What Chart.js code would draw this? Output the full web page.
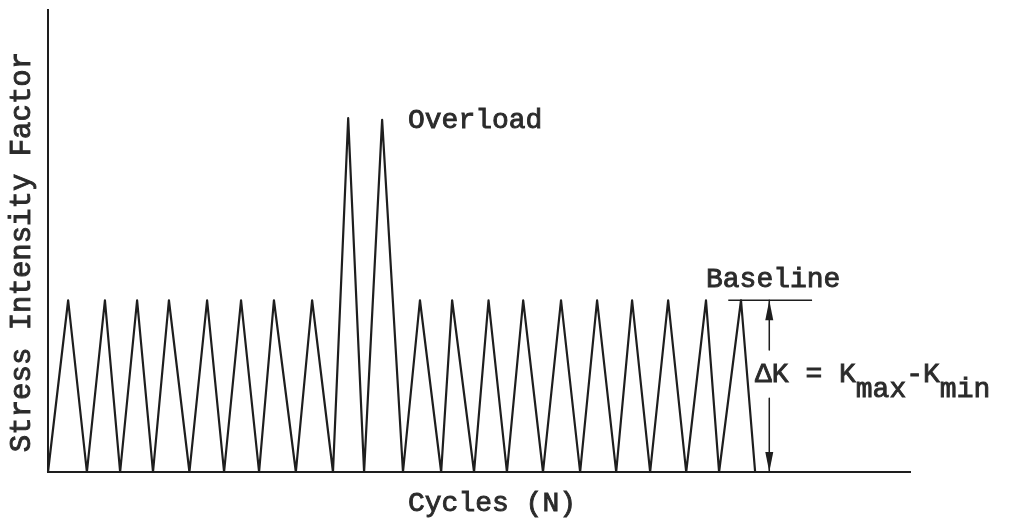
<!DOCTYPE html>
<html lang="en">
<head>
    <meta charset="UTF-8">
    <title>Stress Intensity Factor vs Cycles</title>
    <script src="https://cdn.jsdelivr.net/npm/chart.js"></script>
    <style>
        body {
            margin: 0;
            padding: 0;
            background: #ffffff;
        }
        #wrap {
            width: 1012px;
            height: 521px;
        }
    </style>
</head>
<body>
    <div id="wrap">
        <canvas id="kChart" width="1012" height="521"></canvas>
    </div>

    <script>
        // cycle positions (N) of each turning point, valley / peak alternating
        const cycles = [
            0, 0.57, 1.10, 1.61, 2.04, 2.52, 2.97, 3.42, 4.00, 4.50,
            4.98, 5.46, 5.97, 6.39, 7.01, 7.47, 8.06, 8.49, 8.94, 9.45,
            10.04, 10.52, 11.12, 11.43, 12.05, 12.46, 12.98, 13.44, 14.00, 14.51,
            15.05, 15.53, 16.07, 16.52, 17.03, 17.54, 18.05, 18.61, 18.98, 19.60,
            20.00
        ];
        // stress intensity (K / Kmax baseline)
        const kValues = [
            0, 1, 0, 1, 0, 1, 0, 1, 0, 1,
            0, 1, 0, 1, 0, 1, 0, 2.06, 0, 2.05,
            0, 1, 0, 1, 0, 1, 0, 1, 0, 1,
            0, 1, 0, 1, 0, 1, 0, 1, 0, 1,
            0
        ];
        const baselineX = [19.24, 21.61];
        const baselineK = 1;
        const deltaX = 20.40;
        const upperStem = [1, 0.71];
        const lowerStem = [0.43, 0];

        const xTitle = 'Cycles (N)';
        const yTitle = 'Stress Intensity Factor';
        const overloadText = 'Overload';
        const baselineText = 'Baseline';

        const ink = '#1e1e1e';
        const textInk = '#2b2b2b';
        const mono = '"Liberation Mono", "DejaVu Sans Mono", monospace';

        const wave = cycles.map((c, i) => ({ x: c, y: kValues[i] }));

        const lineStyle = {
            borderColor: ink,
            borderWidth: 2.2,
            pointRadius: 0,
            tension: 0,
            fill: false,
            clip: false,
            borderJoinStyle: 'round'
        };

        // typewriter text looks heavier than the plain font, so stroke it a bit
        function typeText(ctx, txt, x, y) {
            ctx.fillText(txt, x, y);
            ctx.strokeText(txt, x, y);
        }

        // labels and arrowheads
        const annotations = {
            id: 'annotations',
            afterDatasetsDraw(chart) {
                const ctx = chart.ctx;
                const xs = chart.scales.x;
                const ys = chart.scales.y;
                ctx.save();
                ctx.fillStyle = textInk;
                ctx.strokeStyle = textInk;
                ctx.lineWidth = 0.9;
                ctx.textBaseline = 'alphabetic';
                ctx.font = '28px ' + mono;

                ctx.textAlign = 'left';
                typeText(ctx, overloadText, 408, 128);
                typeText(ctx, baselineText, 706, 287);

                let x = 755;
                const parts = [['\u0394K = K', 382], ['max', 397], ['-K', 382], ['min', 397]];
                parts.forEach(p => {
                    typeText(ctx, p[0], x, p[1]);
                    x += ctx.measureText(p[0]).width;
                });

                ctx.textAlign = 'center';
                typeText(ctx, xTitle, 492, 511);

                ctx.save();
                ctx.translate(30, 252);
                ctx.rotate(-Math.PI / 2);
                ctx.font = '29px ' + mono;
                typeText(ctx, yTitle, 0, 0);
                ctx.restore();

                // arrowheads on the delta K dimension line
                const ax = xs.getPixelForValue(deltaX);
                const top = ys.getPixelForValue(upperStem[0]);
                const bot = ys.getPixelForValue(lowerStem[1]);
                ctx.fillStyle = ink;
                ctx.beginPath();
                ctx.moveTo(ax, top);
                ctx.lineTo(ax - 4, top + 20);
                ctx.lineTo(ax + 4, top + 20);
                ctx.closePath();
                ctx.fill();
                ctx.beginPath();
                ctx.moveTo(ax, bot);
                ctx.lineTo(ax - 4, bot - 20);
                ctx.lineTo(ax + 4, bot - 20);
                ctx.closePath();
                ctx.fill();
                ctx.restore();
            }
        };

        new Chart(document.getElementById('kChart'), {
            type: 'line',
            data: {
                datasets: [
                    Object.assign({ label: 'K', data: wave }, lineStyle),
                    Object.assign({ label: 'Baseline', data: baselineX.map(v => ({ x: v, y: baselineK })) }, lineStyle, { borderWidth: 1.5 }),
                    Object.assign({ label: 'dK up', data: upperStem.map(v => ({ x: deltaX, y: v })) }, lineStyle, { borderWidth: 1.5 }),
                    Object.assign({ label: 'dK down', data: lowerStem.map(v => ({ x: deltaX, y: v })) }, lineStyle, { borderWidth: 1.5 })
                ]
            },
            options: {
                responsive: false,
                animation: false,
                events: [],
                layout: {
                    padding: { left: 40, top: 10, right: 102, bottom: 41 }
                },
                plugins: {
                    legend: { display: false },
                    tooltip: { enabled: false },
                    title: { display: false }
                },
                scales: {
                    x: {
                        type: 'linear',
                        min: 0,
                        max: 24.38,
                        grid: { display: false },
                        ticks: { display: false },
                        border: { display: true, color: ink, width: 2 }
                    },
                    y: {
                        min: 0,
                        max: 2.69,
                        grid: { display: false },
                        ticks: { display: false },
                        border: { display: true, color: ink, width: 2 }
                    }
                }
            },
            plugins: [annotations]
        });
    </script>
</body>
</html>
